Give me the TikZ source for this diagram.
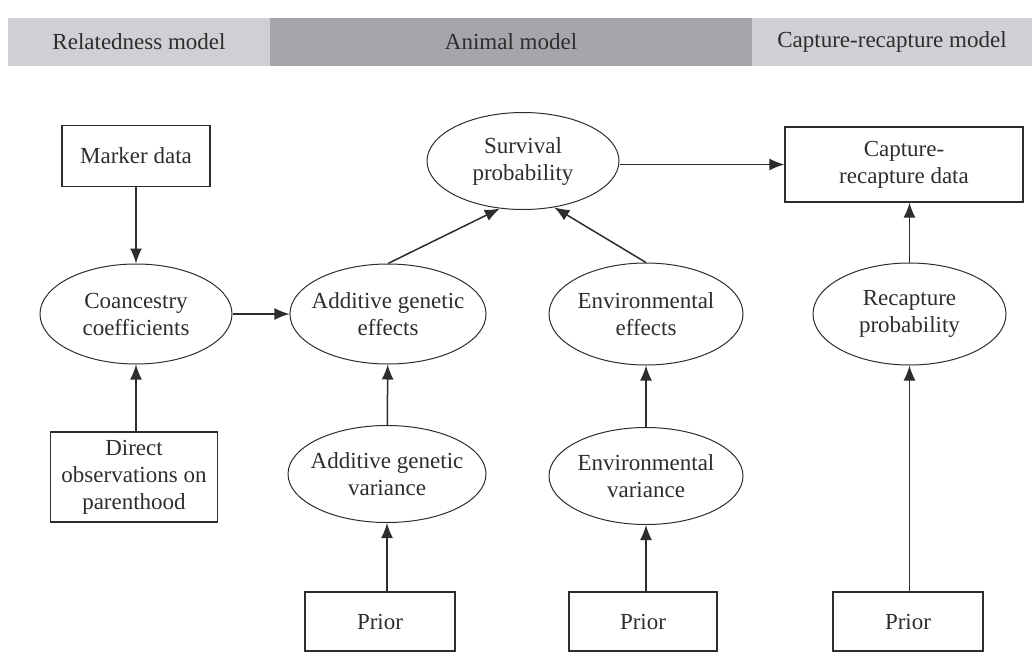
\documentclass[tikz,border=0pt]{standalone}
\usepackage{fontspec}
\setmainfont{Liberation Serif}
\usetikzlibrary{shapes.geometric,arrows.meta}
\definecolor{bandlight}{RGB}{207,208,211}
\definecolor{banddark}{RGB}{164,166,170}
\definecolor{inkgray}{RGB}{45,45,45}

\begin{document}
\begin{tikzpicture}[x=1pt,y=-1pt,
	every node/.style={font=\fontsize{23}{27}\selectfont, align=center, text=inkgray},
	box/.style={draw=inkgray, line width=1.2pt, inner sep=0pt},
	oval/.style={draw=inkgray, ellipse, line width=1pt, inner sep=-7pt},
	link/.style={draw=inkgray, line width=1.5pt, -{Latex[length=15pt,width=12pt]}}]
	\useasboundingbox (0,0) rectangle (1032,654);
	% header band
	\fill[bandlight] (8,18) rectangle (270,66);
	\fill[banddark] (270,18) rectangle (752,66);
	\fill[bandlight] (752,18) rectangle (1032,66);
	\node (relhead) at (139,42) {Relatedness model};
	\node (animhead) at (511,42) {Animal model};
	\node (caphead) at (892,42) {Capture-recapture model};
	% relatedness part
	\node[box, minimum width=148, minimum height=61] (marker) at (136,156) {Marker data};
	\node[oval, minimum width=192, minimum height=100] (coan) at (136,314) {Coancestry\\coefficients};
	\node[box, minimum width=167, minimum height=90] (direct) at (134,477) {Direct\\observations on\\parenthood};
	% animal part
	\node[oval, minimum width=192, minimum height=97] (surv) at (523,161) {Survival\\probability};
	\node[oval, minimum width=196, minimum height=100] (addeff) at (388,314) {Additive genetic\\effects};
	\node[oval, minimum width=194, minimum height=102] (envf) at (646,314) {Environmental\\effects};
	\node[oval, minimum width=198, minimum height=97] (addvar) at (387,474) {Additive genetic\\variance};
	\node[oval, minimum width=194, minimum height=97] (envvar) at (646,476) {Environmental\\variance};
	\node[box, minimum width=150, minimum height=59] (prior1) at (380,621.5) {Prior};
	\node[box, minimum width=148, minimum height=59] (prior2) at (643,621.5) {Prior};
	% capture-recapture part
	\node[box, minimum width=238, minimum height=75] (capdata) at (904,164.5) {Capture-\\recapture data};
	\node[oval, minimum width=193, minimum height=102] (recap) at (909.5,314) {Recapture\\probability};
	\node[box, minimum width=150, minimum height=59] (prior3) at (908,621.5) {Prior};
	% arrows
	\draw[link] (marker) -- (coan);
	\draw[link] (direct.north -| coan) -- (coan.south);
	\draw[link] (coan) -- (addeff);
	\draw[link] (addeff.north) -- (surv.244);
	\draw[link] (envf.north) -- (surv.304);
	\draw[link] (capdata.west -| surv.east) -- (capdata.west);
	\draw[link] (recap.north) -- (recap.north |- capdata.south);
	\draw[link] (addvar) -- (addeff);
	\draw[link] (envvar) -- (envf);
	\draw[link] (prior1.north -| addvar) -- (addvar.south);
	\draw[link] (prior2.north -| envvar) -- (envvar.south);
	\draw[link] (prior3.north -| recap) -- (recap.south);
\end{tikzpicture}
\end{document}
